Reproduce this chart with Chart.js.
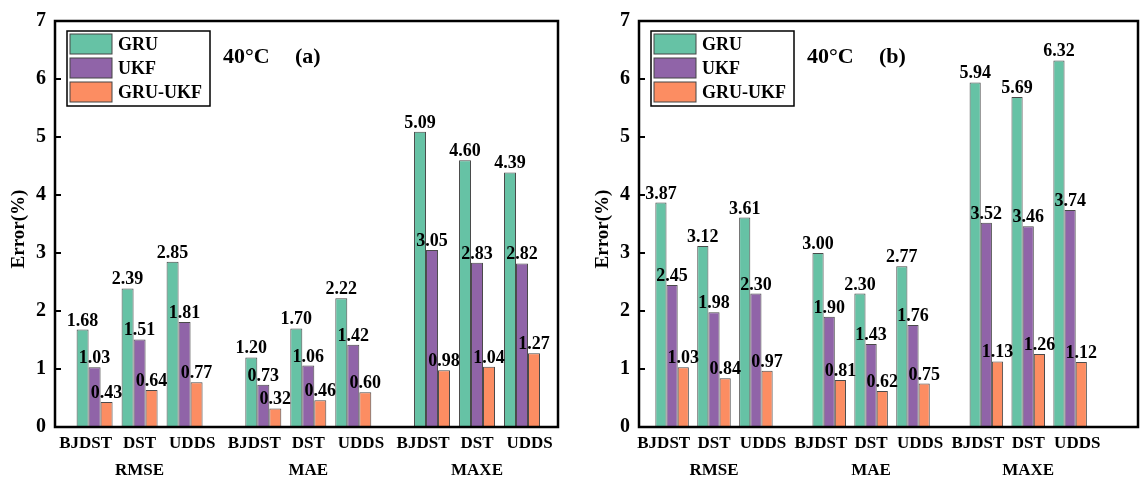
<!DOCTYPE html>
<html lang="en">
<head>
<meta charset="UTF-8">
<title>GRU / UKF / GRU-UKF error at 40°C</title>
<script src="https://cdn.jsdelivr.net/npm/chart.js"></script>
<style>
    body {
        margin: 0;
        background: #fff;
        width: 1140px;
        height: 478px;
        position: relative;
        overflow: hidden;
    }
    canvas {
        position: absolute;
        top: 0;
    }
    #chartA { left: 0; }
    #chartB { left: 580px; }
</style>
</head>
<body>
<canvas id="chartA" width="570" height="478"></canvas>
<canvas id="chartB" width="560" height="478"></canvas>

<script>
    // categories and groups along the x axis
    const categories = ["BJDST", "DST", "UDDS"];
    const groups = ["RMSE", "MAE", "MAXE"];
    // bar group positions (gap between the metric groups)
    const xPos = [0, 1, 2, 3.75, 4.75, 5.75, 7.5, 8.5, 9.5];
    // the category labels sit a little wider apart than the bars
    const labelShift = [-0.2, 0, 0.17];
    const seriesNames = ["GRU", "UKF", "GRU-UKF"];
    const seriesColors = ["#66c2a5", "#9064a8", "#fc8d62"];
    const yTicks = [0, 1, 2, 3, 4, 5, 6, 7];

    // panel (a)
    const gruA = [1.68, 2.39, 2.85, 1.20, 1.70, 2.22, 5.09, 4.60, 4.39];
    const ukfA = [1.03, 1.51, 1.81, 0.73, 1.06, 1.42, 3.05, 2.83, 2.82];
    const gruUkfA = [0.43, 0.64, 0.77, 0.32, 0.46, 0.60, 0.98, 1.04, 1.27];

    // panel (b)
    const gruB = [3.87, 3.12, 3.61, 3.00, 2.30, 2.77, 5.94, 5.69, 6.32];
    const ukfB = [2.45, 1.98, 2.30, 1.90, 1.43, 1.76, 3.52, 3.46, 3.74];
    const gruUkfB = [1.03, 0.84, 0.97, 0.81, 0.62, 0.75, 1.13, 1.26, 1.12];

    const FONT = "'Liberation Serif', 'Times New Roman', serif";

    // frame, inward ticks, value labels, legend and annotation
    const decorations = {
        id: "decorations",
        afterDraw(chart) {
            const ctx = chart.ctx;
            const area = chart.chartArea;
            const yScale = chart.scales.y;
            const o = chart.options.plugins.decorations;

            ctx.save();
            // value labels above every bar
            ctx.fillStyle = "#000";
            ctx.font = "bold 18px " + FONT;
            ctx.textAlign = "center";
            ctx.textBaseline = "alphabetic";
            chart.data.datasets.forEach((ds, di) => {
                chart.getDatasetMeta(di).data.forEach((bar, i) => {
                    ctx.fillText(ds.data[i].y.toFixed(2), bar.x, bar.y - 4);
                });
            });

            // frame
            ctx.strokeStyle = "#000";
            ctx.lineWidth = 2.5;
            ctx.strokeRect(area.left, area.top, area.right - area.left, area.bottom - area.top);

            // inward tick marks on the y axis
            ctx.lineWidth = 2;
            yScale.ticks.forEach(t => {
                const py = yScale.getPixelForValue(t.value);
                ctx.beginPath();
                ctx.moveTo(area.left, py);
                ctx.lineTo(area.left + 6, py);
                ctx.stroke();
            });

            // y title
            ctx.save();
            ctx.translate(area.left - 36, 229);
            ctx.rotate(-Math.PI / 2);
            ctx.font = "bold 19px " + FONT;
            ctx.textAlign = "center";
            ctx.textBaseline = "middle";
            ctx.fillText("Error(%)", 0, 0);
            ctx.restore();

            // legend
            const lx = area.left + 12, ly = 31;
            ctx.lineWidth = 1.5;
            ctx.fillStyle = "#fff";
            ctx.fillRect(lx, ly, 143, 75);
            ctx.strokeRect(lx, ly, 143, 75);
            ctx.font = "bold 18px " + FONT;
            ctx.textAlign = "left";
            ctx.textBaseline = "middle";
            chart.data.datasets.forEach((ds, i) => {
                const sy = ly + 3 + i * 24;
                ctx.fillStyle = ds.backgroundColor;
                ctx.fillRect(lx + 3, sy, 42, 20);
                ctx.strokeStyle = "#444";
                ctx.lineWidth = 1;
                ctx.strokeRect(lx + 3, sy, 42, 20);
                ctx.fillStyle = "#000";
                ctx.fillText(ds.label, lx + 51, sy + 11);
            });

            // temperature and panel tag
            ctx.font = "bold 22px " + FONT;
            ctx.fillText("40°C", area.left + 168, 57);
            ctx.fillText(o.tag, area.left + 240, 57);
            ctx.restore();
        }
    };

    function makeChart(id, gru, ukf, gruUkf, tag, xMin, xMax, leftW, rightPad) {
        const series = [gru, ukf, gruUkf];
        const datasets = series.map((vals, s) => ({
            label: seriesNames[s],
            data: vals.map((v, i) => ({ x: xPos[i], y: v })),
            backgroundColor: seriesColors[s],
            borderColor: "#4a4a4a",
            borderWidth: 1,
            categoryPercentage: 0.8,
            barPercentage: 1
        }));

        new Chart(document.getElementById(id), {
            type: "bar",
            data: { datasets: datasets },
            options: {
                responsive: false,
                animation: false,
                layout: { padding: { top: 20, right: rightPad, left: 0, bottom: 0 } },
                plugins: {
                    legend: { display: false },
                    tooltip: { enabled: false },
                    decorations: { tag: tag }
                },
                scales: {
                    x: {
                        type: "linear",
                        min: xMin,
                        max: xMax,
                        offset: false,
                        grid: { display: false, drawTicks: false },
                        border: { display: false },
                        afterBuildTicks: s => {
                            s.ticks = xPos.map((v, i) => ({ value: v + labelShift[i % 3] }));
                        },
                        ticks: {
                            autoSkip: false,
                            maxRotation: 0,
                            padding: 3,
                            color: "#000",
                            font: { family: FONT, size: 17, weight: "bold", lineHeight: 1.6 },
                            callback: (v, i) => i % 3 === 1
                                ? [categories[i % 3], groups[Math.floor(i / 3)]]
                                : categories[i % 3]
                        },
                        afterFit: s => { s.height = 51; }
                    },
                    y: {
                        min: 0,
                        max: 7,
                        afterBuildTicks: s => { s.ticks = yTicks.map(v => ({ value: v })); },
                        grid: { display: false, drawTicks: false },
                        border: { display: false },
                        ticks: {
                            padding: 9,
                            color: "#000",
                            font: { family: FONT, size: 20, weight: "bold" }
                        },
                        afterFit: s => { s.width = leftW; }
                    }
                }
            },
            plugins: [decorations]
        });
    }

    makeChart("chartA", gruA, ukfA, gruUkfA, "(a)", -0.88, 10.3, 55, 12);
    makeChart("chartB", gruB, ukfB, gruUkfB, "(b)", -0.79, 11.12, 59, 2);
</script>
</body>
</html>
